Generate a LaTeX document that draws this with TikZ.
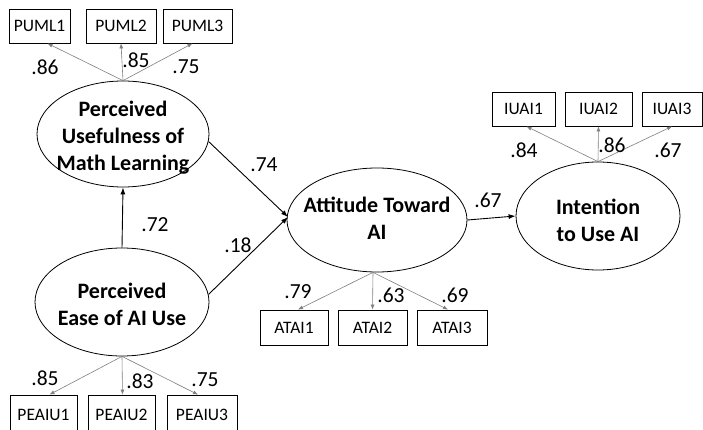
\documentclass[tikz,border=0pt]{standalone}
\usepackage{fontspec}
\setmainfont{Carlito}
\usetikzlibrary{shapes.geometric,arrows.meta}
\begin{document}
\begin{tikzpicture}[x=1pt,y=-1pt,
 latent/.style={ellipse,draw,line width=0.8pt,inner sep=0pt},
 ltext/.style={inner sep=0pt,font=\fontsize{22}{27}\selectfont\bfseries,align=center},
 obs/.style={rectangle,draw,line width=0.8pt,minimum height=34pt,inner sep=0pt,font=\fontsize{17.5}{18}\selectfont},
 load/.style={draw=gray,line width=0.6pt,-{Latex[length=5pt,width=4pt]}},
 struct/.style={draw=black,line width=0.9pt,-{Latex[length=7pt,width=5pt]}},
 coef/.style={font=\fontsize{21.5}{22}\selectfont,inner sep=0pt}]
\useasboundingbox (0,0) rectangle (703,430);
\clip (0,0) rectangle (703,430);
\fill[white] (0,0) rectangle (703,430);

% latent variables
\node[latent,minimum width=172pt,minimum height=106pt] (puml) at (123,134) {};
\node[ltext] (pumlt) at (123,137.5) {Perceived\\Usefulness of\\Math Learning};
\node[latent,minimum width=174pt,minimum height=108pt] (peaiu) at (122,302) {};
\node[ltext] (peaiut) at (122,304) {Perceived\\Ease of AI Use};
\node[latent,minimum width=180pt,minimum height=104pt] (atai) at (377,220) {};
\node[ltext] (atait) at (377,218) {Attitude Toward\\AI};
\node[latent,minimum width=164pt,minimum height=108pt] (iuai) at (598,216) {};
\node[ltext] (iuait) at (598,220) {Intention\\to Use AI};

% indicators
\node[obs,minimum width=61pt] (puml1) at (39.5,26) {PUML1};
\node[obs,minimum width=70pt] (puml2) at (121,26) {PUML2};
\node[obs,minimum width=69pt] (puml3) at (197.5,26) {PUML3};

\node[obs,minimum width=67pt,minimum height=40pt] (peaiu1) at (43.5,415) {PEAIU1};
\node[obs,minimum width=67pt,minimum height=40pt] (peaiu2) at (121.5,415) {PEAIU2};
\node[obs,minimum width=70pt,minimum height=40pt] (peaiu3) at (202,415) {PEAIU3};

\node[obs,minimum width=68pt,minimum height=35pt] (atai1) at (294,327.5) {ATAI1};
\node[obs,minimum width=69pt,minimum height=35pt] (atai2) at (372.5,327.5) {ATAI2};
\node[obs,minimum width=70pt,minimum height=35pt] (atai3) at (452,327.5) {ATAI3};

\node[obs,minimum width=63pt] (iuai1) at (523.5,109) {IUAI1};
\node[obs,minimum width=67pt] (iuai2) at (598.5,109) {IUAI2};
\node[obs,minimum width=60pt] (iuai3) at (672,109) {IUAI3};

% loadings
\draw[load] (puml.north) -- ([xshift=8pt]puml1.south);
\draw[load] (puml.north) -- (puml2.south);
\draw[load] (puml.north) -- ([xshift=-5pt]puml3.south);

\draw[load] (peaiu.south) -- ([xshift=6pt]peaiu1.north);
\draw[load] (peaiu.south) -- ([xshift=1pt]peaiu2.north);
\draw[load] (peaiu.south) -- ([xshift=-4pt]peaiu3.north);

\draw[load] ([xshift=-4pt]atai.south) -- ([xshift=4pt]atai1.north);
\draw[load] ([xshift=-4pt]atai.south) -- (atai2.north);
\draw[load] ([xshift=-4pt]atai.south) -- ([xshift=-4pt]atai3.north);

\draw[load] (iuai.north) -- ([xshift=3pt]iuai1.south);
\draw[load] (iuai.north) -- (iuai2.south);
\draw[load] (iuai.north) -- (iuai3.south);

\node[coef] (l1) at (45,67) {.86};
\node[coef] (l2) at (136,60) {.85};
\node[coef] (l3) at (186,67) {.75};
\node[coef] (l4) at (45,378) {.85};
\node[coef] (l5) at (140,381) {.83};
\node[coef] (l6) at (205,380) {.75};
\node[coef] (l7) at (298,292) {.79};
\node[coef] (l8) at (391,295) {.63};
\node[coef] (l9) at (455,295) {.69};
\node[coef] (l10) at (524,150) {.84};
\node[coef] (l11) at (612,145) {.86};
\node[coef] (l12) at (668,150) {.67};

% structural paths
\coordinate (ain) at (288,217);
\draw[struct] (puml.-5) -- (ain);
\draw[struct] (peaiu.5) -- (ain);
\draw[struct] (peaiu.north) -- (puml.south);
\draw[struct] (atai.east) -- (iuai.west);

\node[coef] (p1) at (264,165) {.74};
\node[coef] (p2) at (238,245) {.18};
\node[coef] (p3) at (155,225) {.72};
\node[coef] (p4) at (488,200) {.67};
\end{tikzpicture}
\end{document}
